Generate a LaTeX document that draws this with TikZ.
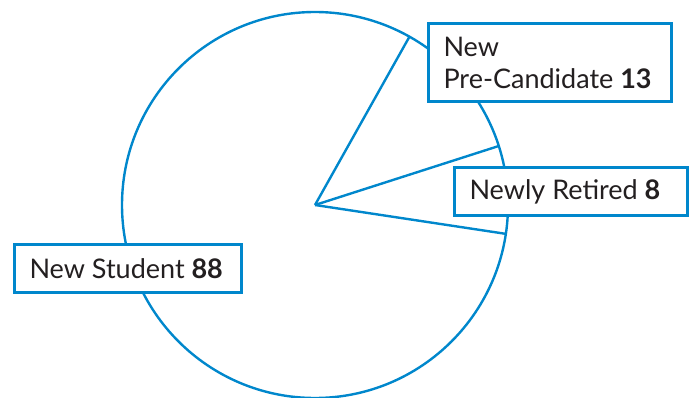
\documentclass[tikz,border=0pt]{standalone}
\usepackage{fontspec}
\setmainfont{Lato}
\usetikzlibrary{positioning}
\definecolor{pieblue}{HTML}{0087CC}
\definecolor{inkgray}{HTML}{231F20}

\begin{document}
\begin{tikzpicture}[x=1pt, y=-1pt,
		slice/.style={draw=pieblue, line width=2.4pt},
		tag/.style={draw=pieblue, line width=3pt, fill=white, text=inkgray,
			inner xsep=15pt, inner ysep=9pt, align=flush left,
			font=\fontsize{27}{32}\selectfont}]
	\useasboundingbox (0,0) rectangle (696,398);
	\coordinate (ctr) at (315,205);
	\draw[slice] (ctr) circle (193pt);
	\foreach \ang/\name in {8.6/retA, -17.8/retB, -60.7/preB}
		\draw[slice] (ctr) -- ++(\ang:193) coordinate (\name);
	\node[tag, anchor=north west, text width=213pt, minimum height=78pt] (pre) at (427,22) {New\\Pre-Candidate \textbf{13}};
	\node[tag, anchor=north west, text width=203pt, minimum height=48pt] (ret) at (453,166) {Newly Retired \textbf{8}};
	\node[tag, anchor=north west, text width=197pt, minimum height=48pt] (stu) at (13,243) {New Student \textbf{88}};
\end{tikzpicture}
\end{document}
